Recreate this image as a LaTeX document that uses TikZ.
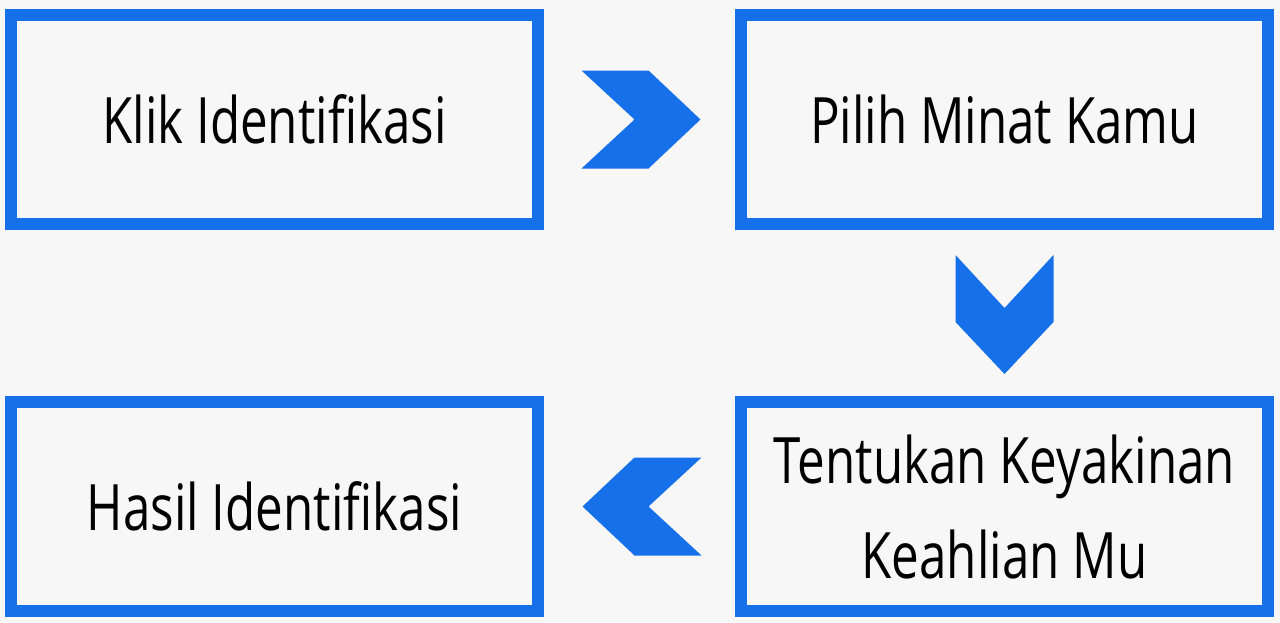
\documentclass[tikz,border=0pt]{standalone}
\usepackage{fontspec}
\setmainfont{Open Sans}[FakeStretch=0.77]
\usepackage{tikz}
\usetikzlibrary{positioning,calc}
\definecolor{stepblue}{HTML}{1570EA}
\definecolor{paper}{HTML}{F7F7F7}

\begin{document}
\begin{tikzpicture}[x=0.5pt, y=-0.5pt, font=\fontsize{32}{47.5}\selectfont,
	box/.style={draw=stepblue, line width=6pt, minimum width=263.5pt, minimum height=104.5pt, align=center, inner sep=0pt, outer sep=0pt},
	chev/.pic={\fill[stepblue] (-58,-49) -- (9,-49) -- (61,0) -- (9,49) -- (-58,49) -- (-5,0) -- cycle;}]
		\fill[paper] (0,0) rectangle (1280,622);
		\node[box] (klik) at (274.5,119.5) {Klik Identifikasi};
		\node[box, right=101.5pt of klik] (minat) {Pilih Minat Kamu};
		\node[box, below=89pt of minat] (yakin) {Tentukan Keyakinan\\Keahlian Mu};
		\node[box, left=101.5pt of yakin] (hasil) {Hasil Identifikasi};
		% chevrons between the steps
		\path ($(klik.east)!0.5!(minat.west)$) pic {chev};
		\path ($(minat.south)!0.5!(yakin.north)$) pic[rotate=-90] {chev};
		\path ($(yakin.west)!0.5!(hasil.east)$) ++(4,0) pic[rotate=180] {chev};
	\end{tikzpicture}
\end{document}
